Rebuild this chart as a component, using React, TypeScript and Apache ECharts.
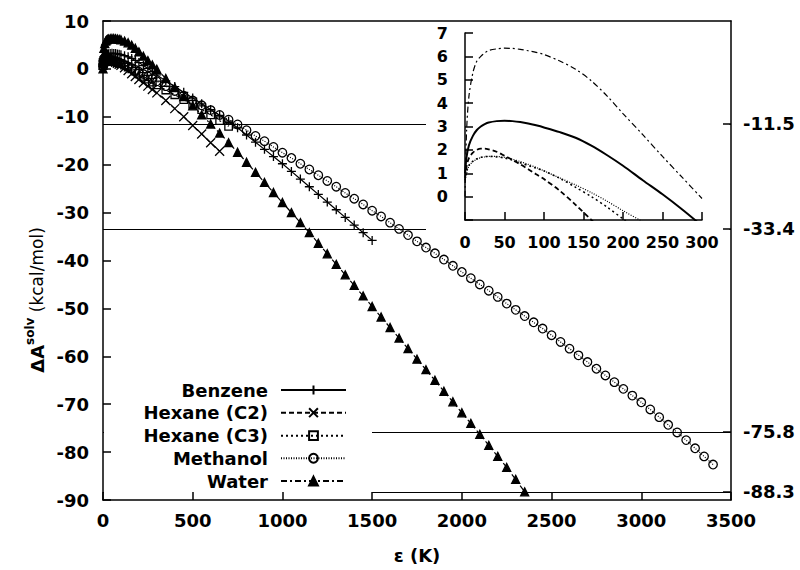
import React, { useEffect, useRef } from "react";
import * as echarts from "echarts";

// ε grid (K): dense near the origin, every 50 K afterwards
const EPS = [
  0, 2, 5, 10, 15, 20, 25, 30, 40, 50, 60, 70, 80, 90, 100, 120, 140, 160, 180, 200, 225, 250, 275, 300,
  350, 400, 450, 500, 550, 600, 650, 700, 750, 800, 850, 900, 950, 1000, 1050, 1100, 1150, 1200, 1250,
  1300, 1350, 1400, 1450, 1500, 1550, 1600, 1650, 1700, 1750, 1800, 1850, 1900, 1950, 2000, 2050, 2100,
  2150, 2200, 2250, 2300, 2350, 2400, 2450, 2500, 2550, 2600, 2650, 2700, 2750, 2800, 2850, 2900, 2950,
  3000, 3050, 3100, 3150, 3200, 3250, 3300, 3350, 3400,
];

const SERIES_NAMES = ["Benzene", "Hexane (C2)", "Hexane (C3)", "Methanol", "Water"];

const BENZENE = [
  1.0, 1.7, 2.2, 2.6, 2.85, 3.0, 3.1, 3.17, 3.23, 3.25, 3.23, 3.19, 3.13, 3.05, 2.96, 2.76, 2.52, 2.18,
  1.77, 1.32, 0.7, 0.1, -0.55, -1.25,
  -2.5, -3.7, -4.9, -6.1, -7.3, -8.5, -9.7, -10.9, -12.3, -13.8, -15.3, -16.8, -18.3, -19.8, -21.4, -23.0,
  -24.6, -26.2, -27.8, -29.4, -31.0, -32.6, -34.2, -35.8,
];

const HEXANE_C2 = [
  0.8, 1.3, 1.65, 1.88, 2.0, 2.05, 2.05, 2.02, 1.92, 1.75, 1.57, 1.38, 1.17, 0.96, 0.75, 0.25, -0.35, -1.0,
  -1.6, -2.2, -2.9, -3.6, -4.3, -5.0,
  -6.6, -8.3, -10.0, -11.8, -13.6, -15.4, -17.2,
];

const HEXANE_C3 = [
  0.7, 1.1, 1.35, 1.52, 1.62, 1.68, 1.71, 1.72, 1.7, 1.65, 1.56, 1.45, 1.33, 1.22, 1.1, 0.78, 0.4, 0.0,
  -0.45, -0.95, -1.55, -2.15, -2.75, -3.35,
  -4.4, -5.4, -6.4, -7.4, -8.5, -9.6, -10.8, -12.0,
];

const METHANOL = [
  0.6, 1.0, 1.3, 1.5, 1.6, 1.67, 1.7, 1.72, 1.72, 1.68, 1.6, 1.5, 1.38, 1.25, 1.1, 0.8, 0.5, 0.17,
  -0.2, -0.6, -1.08, -1.57, -2.07, -2.58,
  -3.6, -4.6, -5.6, -6.6, -7.6, -8.6, -9.6, -10.6, -11.6, -12.8, -14.0, -15.1, -16.3, -17.5, -18.6, -19.8,
  -21.0, -22.2, -23.4, -24.6, -25.9, -27.1, -28.3, -29.6, -30.8, -32.1, -33.4, -34.7, -36.0, -37.3, -38.5,
  -39.8, -41.1, -42.4, -43.7, -45.0, -46.3, -47.6, -49.0, -50.3, -51.6, -52.9, -54.2, -55.6, -57.0, -58.4,
  -59.8, -61.2, -62.6, -64.0, -65.4, -66.8, -68.2, -69.6, -71.1, -72.7, -74.3, -75.9, -77.5, -79.2, -80.9,
  -82.6,
];

const WATER = [
  0, 2.8, 4.3, 5.3, 5.8, 6.0, 6.15, 6.25, 6.32, 6.35, 6.34, 6.3, 6.24, 6.17, 6.08, 5.8, 5.45, 4.95, 4.3,
  3.55, 2.65, 1.72, 0.82, -0.08,
  -2.0, -3.9, -5.8, -7.7, -9.6, -11.5, -13.4, -15.4, -17.4, -19.5, -21.6, -23.7, -25.8, -27.9, -30.0,
  -32.1, -34.2, -36.4, -38.6, -40.8, -43.0, -45.2, -47.4, -49.6, -51.8, -54.0, -56.2, -58.4, -60.6,
  -62.8, -65.0, -67.3, -69.5, -71.8, -74.0, -76.3, -78.6, -80.9, -83.2, -85.7, -88.3,
];

const REF_LINES = [-11.5, -33.4, -75.8, -88.3];

const MAIN_X_TICKS = { min: 0, max: 3500, interval: 500 };
const MAIN_Y_TICKS = { min: -90, max: 10, interval: 10 };
const INSET_X_TICKS = { min: 0, max: 300, interval: 50 };
const INSET_Y_TICKS = { min: -1, max: 7, interval: 1 };

const FONT = "DejaVu Sans";
const BLACK = "#000";

const PLUS = "path://M0,5L10,5M5,0L5,10";
const CROSS = "path://M0,0L10,10M10,0L0,10";

const STYLES = [
  { symbol: PLUS, size: 9, fill: "rgba(0,0,0,0)", dash: "solid", insetWidth: 2 },
  { symbol: CROSS, size: 9, fill: "rgba(0,0,0,0)", dash: [5, 3], insetWidth: 1.8 },
  { symbol: "rect", size: 7.5, fill: "rgba(0,0,0,0)", dash: [2, 3], insetWidth: 1.5 },
  { symbol: "circle", size: 8.5, fill: "rgba(0,0,0,0)", dash: [1, 1.5], insetWidth: 1.2 },
  { symbol: "triangle", size: 8, fill: BLACK, dash: [6, 3, 2, 3], insetWidth: 1.2 },
];

const VALUES = [BENZENE, HEXANE_C2, HEXANE_C3, METHANOL, WATER];

const LEGEND_ROW_CENTERS = [390, 412.7, 435.7, 458.3, 481];

export default function App() {
  const ref = useRef<HTMLDivElement>(null);

  useEffect(() => {
    if (!ref.current) return;
    const chart = echarts.init(ref.current, undefined, { renderer: "svg" });

    const axisLineStyle = { color: BLACK, width: 1.5 };
    const mainLabel = { color: BLACK, fontFamily: FONT, fontWeight: "bold" as const, fontSize: 18 };
    const insetLabel = { color: BLACK, fontFamily: FONT, fontWeight: "bold" as const, fontSize: 16 };

    const mainSeries = VALUES.map((vals, i) => {
      const st = STYLES[i];
      return {
        type: "line",
        name: SERIES_NAMES[i],
        xAxisIndex: 0,
        yAxisIndex: 0,
        data: vals.map((v, j) => [EPS[j], v]),
        symbol: st.symbol,
        symbolSize: st.size,
        itemStyle: { color: st.fill, borderColor: BLACK, borderWidth: 1.3 },
        lineStyle: { color: BLACK, width: 1.2, type: st.dash },
        emphasis: { disabled: true },
        z: 2,
      };
    });

    const insetSeries = VALUES.map((vals, i) => {
      const st = STYLES[i];
      const pts: number[][] = [];
      vals.forEach((v, j) => {
        if (EPS[j] <= 300) pts.push([EPS[j], v]);
      });
      return {
        type: "line",
        xAxisIndex: 2,
        yAxisIndex: 2,
        data: pts,
        showSymbol: false,
        symbol: "none",
        smooth: 0.3,
        lineStyle: { color: BLACK, width: st.insetWidth, type: st.dash },
        emphasis: { disabled: true },
        z: 6,
      };
    });

    const refLineSeries = {
      type: "line",
      xAxisIndex: 0,
      yAxisIndex: 0,
      data: [],
      z: 1,
      markLine: {
        z: 1,
        silent: true,
        symbol: "none",
        label: { show: false },
        lineStyle: { color: BLACK, width: 1.2, type: "solid" },
        data: REF_LINES.map((v) => ({ yAxis: v })),
      },
    };

    const legends = SERIES_NAMES.map((name, i) => ({
      data: [name],
      orient: "horizontal",
      align: "right",
      right: 800 - 347,
      top: LEGEND_ROW_CENTERS[i] - 10,
      padding: 0,
      itemWidth: 65,
      itemHeight: 11,
      selectedMode: false,
      z: 6,
      textStyle: {
        color: BLACK,
        fontFamily: FONT,
        fontWeight: "bold",
        fontSize: 18,
        lineHeight: 20,
        padding: [0, 8, 0, 0],
      },
    }));

    chart.setOption({
      animation: false,
      backgroundColor: "#fff",
      grid: [
        { left: 103, top: 21, width: 628, height: 479 },
        { left: 465, top: 33, width: 237, height: 187 },
      ],
      xAxis: [
        {
          gridIndex: 0,
          type: "value",
          ...MAIN_X_TICKS,
          z: 4,
          axisLine: { show: true, onZero: false, lineStyle: axisLineStyle },
          axisTick: { show: true, inside: true, length: 8, lineStyle: axisLineStyle },
          axisLabel: { ...mainLabel, margin: 11, formatter: (v: number) => String(v) },
          splitLine: { show: false },
        },
        {
          gridIndex: 0,
          type: "value",
          position: "top",
          ...MAIN_X_TICKS,
          z: 4,
          axisLine: { show: true, onZero: false, lineStyle: axisLineStyle },
          axisTick: { show: false },
          axisLabel: { show: false },
          splitLine: { show: false },
        },
        {
          gridIndex: 1,
          type: "value",
          ...INSET_X_TICKS,
          z: 5,
          axisLine: { show: true, onZero: false, lineStyle: axisLineStyle },
          axisTick: { show: true, inside: true, length: 8, lineStyle: axisLineStyle },
          axisLabel: { ...insetLabel, margin: 14, formatter: (v: number) => String(v) },
          splitLine: { show: false },
        },
      ],
      yAxis: [
        {
          gridIndex: 0,
          type: "value",
          ...MAIN_Y_TICKS,
          z: 4,
          axisLine: { show: true, onZero: false, lineStyle: axisLineStyle },
          axisTick: { show: true, inside: true, length: 8, lineStyle: axisLineStyle },
          axisLabel: { ...mainLabel, margin: 14, formatter: (v: number) => String(v) },
          splitLine: { show: false },
        },
        {
          gridIndex: 0,
          type: "value",
          position: "right",
          min: MAIN_Y_TICKS.min,
          max: MAIN_Y_TICKS.max,
          z: 4,
          axisLine: { show: true, onZero: false, lineStyle: axisLineStyle },
          axisTick: {
            show: true,
            inside: true,
            length: 8,
            lineStyle: axisLineStyle,
            customValues: REF_LINES,
          },
          axisLabel: {
            ...mainLabel,
            margin: 12,
            customValues: REF_LINES,
            formatter: (v: number) => v.toFixed(1),
          },
          splitLine: { show: false },
        },
        {
          gridIndex: 1,
          type: "value",
          ...INSET_Y_TICKS,
          z: 5,
          axisLine: { show: true, onZero: false, lineStyle: axisLineStyle },
          axisTick: { show: true, inside: true, length: 8, lineStyle: axisLineStyle },
          axisLabel: {
            ...insetLabel,
            margin: 17,
            formatter: (v: number) => (v === -1 ? "" : String(v)),
          },
          splitLine: { show: false },
        },
      ],
      legend: legends,
      graphic: [
        {
          type: "rect",
          silent: true,
          z: 3,
          shape: { x: 426, y: 22, width: 303.5, height: 214 },
          style: { fill: "#fff" },
        },
        {
          type: "rect",
          silent: true,
          z: 3,
          shape: { x: 104, y: 376, width: 268, height: 123 },
          style: { fill: "#fff" },
        },
        {
          type: "text",
          x: 37,
          y: 300,
          rotation: Math.PI / 2,
          z: 5,
          style: {
            text: "{a|ΔA}{s|solv}{b| (kcal/mol)}",
            align: "center",
            verticalAlign: "middle",
            fill: BLACK,
            rich: {
              a: { fontFamily: FONT, fontWeight: "bold", fontSize: 18, lineHeight: 26, fill: BLACK },
              s: { fontFamily: FONT, fontWeight: "bold", fontSize: 12, lineHeight: 14, verticalAlign: "top", fill: BLACK },
              b: { fontFamily: FONT, fontSize: 17, lineHeight: 26, fill: BLACK },
            },
          },
        },
        {
          type: "text",
          x: 417,
          y: 555,
          z: 5,
          style: {
            text: "ε (K)",
            font: `bold 18px "${FONT}"`,
            fill: BLACK,
            align: "center",
            verticalAlign: "middle",
          },
        },
      ],
      series: [refLineSeries, ...mainSeries, ...insetSeries],
    });

    return () => {
      chart.dispose();
    };
  }, []);

  return (
    <div
      ref={ref}
      style={{ position: "absolute", left: 0, top: 0, width: 800, height: 570, background: "#fff" }}
    />
  );
}
